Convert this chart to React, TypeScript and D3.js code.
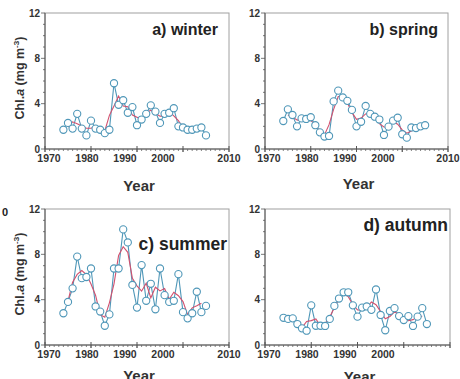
import React from 'react';
import * as d3 from 'd3';

const years = [1974,1975,1976,1977,1978,1979,1980,1981,1982,1983,1984,1985,1986,1987,1988,1989,1990,1991,1992,1993,1994,1995,1996,1997,1998,1999,2000,2001,2002,2003,2004,2005];
const smoothYears = [1975,1976,1977,1978,1979,1980,1981,1982,1983,1984,1985,1986,1987,1988,1989,1990,1991,1992,1993,1994,1995,1996,1997,1998,1999,2000,2001,2002,2003,2004];

const winter = [1.7,2.3,1.8,3.1,1.8,1.2,2.5,1.8,1.7,1.4,1.7,5.8,3.9,4.3,3.2,3.7,2.1,2.6,3.1,3.85,3.3,2.3,3.1,3.2,3.6,2.0,1.9,1.7,1.7,1.8,1.9,1.2];
const winterSmooth = [1.93,2.4,2.23,2.03,1.83,1.83,2.0,1.63,1.6,2.97,3.8,4.67,3.8,3.73,3.0,2.8,2.6,3.18,3.42,3.15,2.9,2.87,3.3,2.93,2.5,1.87,1.77,1.73,1.8,1.63];

const spring = [2.47,3.5,3.0,2.0,2.7,2.65,2.8,2.1,1.47,1.1,1.15,4.2,5.15,4.55,4.25,3.45,2.0,2.4,3.8,3.1,2.85,2.6,1.24,1.97,2.5,2.76,1.3,1.0,1.9,1.85,2.0,2.1];
const springSmooth = [2.99,2.83,2.57,2.45,2.72,2.52,2.12,1.56,1.24,2.15,3.5,4.63,4.65,4.08,3.23,2.62,2.73,3.1,3.25,2.85,2.23,1.94,1.9,2.41,2.19,1.69,1.4,1.58,1.92,1.98];

const summer = [2.8,3.8,5.0,7.8,5.9,6.0,6.75,3.4,2.95,1.7,2.7,6.75,6.75,10.2,9.05,5.3,3.3,7.05,3.9,5.4,3.15,6.75,4.4,3.8,3.9,6.25,2.9,2.35,2.8,4.7,2.9,3.45];
const summerSmooth = [3.87,5.53,6.23,6.57,6.22,5.38,4.37,2.68,2.45,3.72,5.4,7.9,8.67,8.18,5.88,5.22,4.75,5.45,4.15,5.1,4.77,4.98,4.03,4.65,4.35,3.83,2.68,3.28,3.47,3.68];

const autumn = [2.4,2.3,2.35,1.85,1.47,1.26,3.5,1.7,1.7,1.68,2.3,3.45,4.1,4.65,4.65,3.5,2.5,3.3,3.4,3.1,4.9,2.65,1.3,3.0,3.25,2.55,2.2,2.55,1.68,2.5,3.25,1.85];
const autumnSmooth = [2.35,2.17,1.89,1.53,2.08,2.15,2.3,1.69,1.89,2.48,3.28,4.07,4.47,4.27,3.55,3.1,3.07,3.27,3.8,3.55,2.95,2.32,2.52,2.93,2.67,2.43,2.14,2.24,2.48,2.53];

const panelTitles = ['a) winter', 'b) spring', 'c) summer', 'd) autumn'];
const xTickValues = [1970, 1980, 1990, 2000, 2010];
const xTickLabels = ['1970', '1980', '1990', '2000', '2010'];
const yTickValues = [0, 4, 8, 12];
const yTickLabels = ['0', '4', '8', '12'];
const xTitle = 'Year';

const BLUE = '#4f97b8';
const RED = '#d2506e';
const FONT = '"Liberation Sans", Arial, sans-serif';

type PanelProps = {
  title: string;
  values: number[];
  smooth: number[];
  x0: number; x1: number; yTop: number; yBot: number;
  titleSize: number; titleEnd: number; titleBase: number;
  yearBase: number;
  showYTitle: boolean;
  show2010: boolean;
};

function Panel(p: PanelProps) {
  const x = d3.scaleLinear().domain([1970, 2010]).range([p.x0, p.x1]);
  const y = d3.scaleLinear().domain([0, 12]).range([p.yBot, p.yTop]);
  // tick labels in the source are drawn slightly left of their ticks
  const xl = d3.scaleLinear().domain([1970, 2000]).range([p.x0 + 4, p.x0 + 118]);
  const line = d3.line<number>().x((_, i) => x(years[i])).y(d => y(d));
  const sLine = d3.line<number>().x((_, i) => x(smoothYears[i])).y(d => y(d));
  const minorX = d3.range(1970, 2011, 1);
  const minorY = d3.range(0, 13, 1);
  const yMid = (p.yTop + p.yBot) / 2;
  return (
    <g>
      <rect x={p.x0} y={p.yTop} width={p.x1 - p.x0} height={p.yBot - p.yTop} fill="#fff" stroke="#a0a0a0" strokeWidth={1} />
      <line x1={p.x0} x2={p.x1} y1={p.yBot} y2={p.yBot} stroke="#555" strokeWidth={1} />
      <line x1={p.x0} x2={p.x0} y1={p.yTop} y2={p.yBot} stroke="#555" strokeWidth={1} />
      {minorX.map(v => (
        <line key={'mx' + v} x1={x(v)} x2={x(v)} y1={p.yBot} y2={p.yBot + (v % 10 === 0 ? 3 : 2)} stroke="#666" strokeWidth={0.8} />
      ))}
      {xTickValues.map(v => (
        <line key={'Mx' + v} x1={x(v)} x2={x(v)} y1={p.yBot - 3} y2={p.yBot + 3} stroke="#555" strokeWidth={1} />
      ))}
      {minorY.map(v => (
        <line key={'my' + v} x1={p.x0 - (v % 4 === 0 ? 4 : 2)} x2={p.x0} y1={y(v)} y2={y(v)} stroke="#555" strokeWidth={0.8} />
      ))}
      {xTickValues.map((v, i) => {
        if (v === 2010 && !p.show2010) return null;
        const px = v === 2010 ? x(v) : xl(v);
        return (
          <text key={'tx' + v} x={px} y={p.yBot + 13} textAnchor="middle" fontFamily={FONT} fontWeight="bold" fontSize={10.5} fill="#333">{xTickLabels[i]}</text>
        );
      })}
      {yTickValues.map((v, i) => (
        <text key={'ty' + v} x={p.x0 - 5} y={y(v)} dy="0.35em" textAnchor="end" fontFamily={FONT} fontWeight="bold" fontSize={10} fill="#333">{yTickLabels[i]}</text>
      ))}
      <text x={(p.x0 + p.x1) / 2 + 2} y={p.yearBase} textAnchor="middle" fontFamily={FONT} fontWeight="bold" fontSize={15} fill="#333">{xTitle}</text>
      {p.showYTitle && (
        <text transform={`translate(${p.x0 - 21},${yMid - 3}) rotate(-90)`} textAnchor="middle" fontFamily={FONT} fontWeight="bold" fontSize={12.5} fill="#333">
          Chl.<tspan fontStyle="italic">a</tspan> (mg m<tspan fontSize={8} dy={-5}>-3</tspan><tspan dy={5}>)</tspan>
        </text>
      )}
      <text x={p.titleEnd} y={p.titleBase} textAnchor="end" fontFamily={FONT} fontWeight="bold" fontSize={p.titleSize} fill="#222">{p.title}</text>
      <path d={line(p.values) || ''} fill="none" stroke={BLUE} strokeWidth={1.1} />
      <path d={sLine(p.smooth) || ''} fill="none" stroke={RED} strokeWidth={1.1} />
      {p.values.map((v, i) => (
        <circle key={'c' + i} cx={x(years[i])} cy={y(v)} r={3.6} fill="#fff" stroke={BLUE} strokeWidth={1.1} />
      ))}
    </g>
  );
}

export default function App() {
  return (
    <svg width={460} height={379} style={{ position: 'absolute', left: 0, top: 0, background: '#fff' }}>
      <Panel title={panelTitles[0]} values={winter} smooth={winterSmooth} x0={45} x1={229} yTop={13} yBot={149}
        titleSize={16} titleEnd={218} titleBase={35} yearBase={191} showYTitle={true} show2010={true} />
      <Panel title={panelTitles[1]} values={spring} smooth={springSmooth} x0={265} x1={448} yTop={13} yBot={149}
        titleSize={16} titleEnd={438} titleBase={35} yearBase={189} showYTitle={false} show2010={true} />
      <Panel title={panelTitles[2]} values={summer} smooth={summerSmooth} x0={45} x1={229} yTop={209} yBot={345}
        titleSize={17.5} titleEnd={227} titleBase={250} yearBase={381} showYTitle={true} show2010={true} />
      <Panel title={panelTitles[3]} values={autumn} smooth={autumnSmooth} x0={265} x1={450} yTop={209} yBot={345}
        titleSize={17.5} titleEnd={448} titleBase={231} yearBase={382} showYTitle={false} show2010={false} />
      <text x={2} y={216} fontFamily={FONT} fontWeight="bold" fontSize={11} fill="#222">0</text>
    </svg>
  );
}
